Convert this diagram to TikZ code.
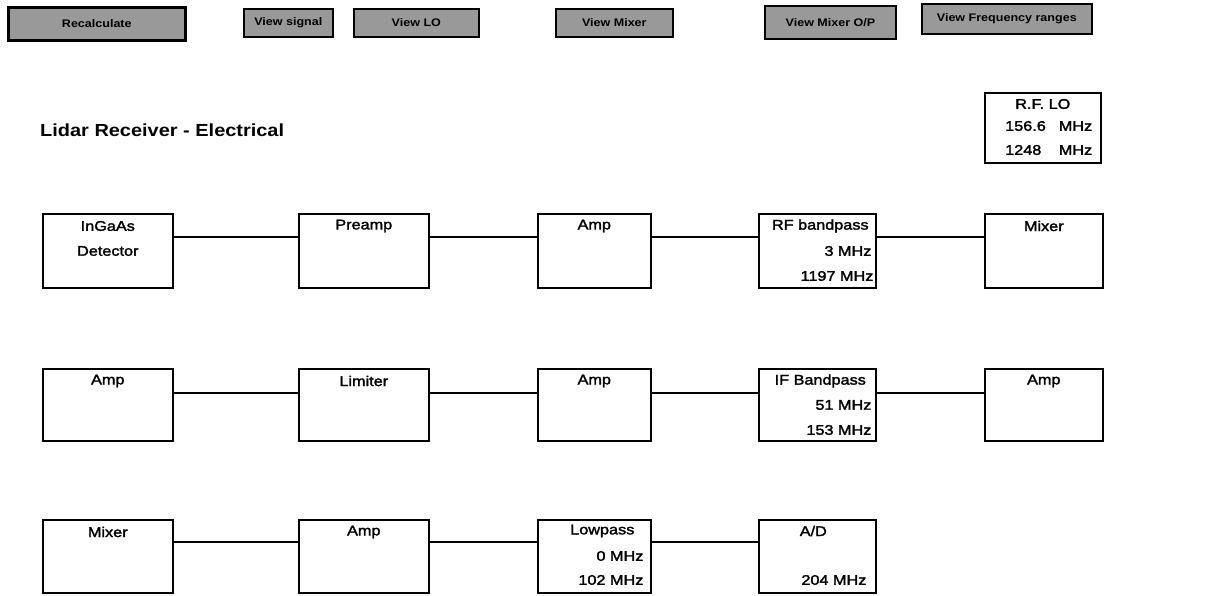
\documentclass[tikz,border=0pt]{standalone}
\usepackage{fontspec}
\setmainfont{Liberation Sans}[FakeStretch=1.14]
\newfontfamily\bodyf{Liberation Sans}[FakeStretch=1.16,FakeBold=2]
\usetikzlibrary{calc}
\begin{document}
\begin{tikzpicture}[x=1pt,y=-1pt,
  blk/.style={draw, line width=1.6pt, inner sep=0pt, anchor=north west},
  wire/.style={line width=1.3pt},
  btn/.style={draw, line width=1.6pt, fill=black!40, inner sep=0pt, anchor=north west,
    font=\bfseries\fontsize{11}{13}\selectfont},
  txt/.style={inner sep=0pt, font=\bodyf\fontsize{14}{16}\selectfont},
  ttl/.style={inner sep=0pt, anchor=west, font=\bfseries\fontsize{17.5}{19}\selectfont}]
\useasboundingbox (0,0) rectangle (1221,596);
% buttons
\node[btn, line width=2.6pt, minimum width=177pt, minimum height=33pt] (bRecalc) at (7,6) {Recalculate};
\node[btn, minimum width=89pt, minimum height=28pt] (bSig) at (243,8) {View signal};
\node[btn, minimum width=125pt, minimum height=28pt] (bLO) at (353,8) {View LO};
\node[btn, minimum width=117pt, minimum height=28pt] (bMix) at (555,8) {View Mixer};
\node[btn, line width=2pt, minimum width=131pt, minimum height=33pt] (bMixOP) at (764,5) {View Mixer O/P};
\node[btn, minimum width=170pt, minimum height=30pt] (bFreq) at (921,3) {View Frequency ranges};
% title
\node[ttl] (title) at (40,130) {Lidar Receiver - Electrical};
% LO box
\node[blk, minimum width=116pt, minimum height=70pt] (LO) at (984,92) {};
\node[txt] (LOt1) at ($(LO.north)+(0,12)$) {R.F. LO};
\node[txt, anchor=west] (LOt2) at ($(LO.north west)+(21,34)$) {\makebox[87pt]{156.6\hfill MHz}};
\node[txt, anchor=west] (LOt3) at ($(LO.north west)+(21,58)$) {\makebox[87pt]{1248\hfill MHz}};
% row 1
\node[blk, minimum width=130pt, minimum height=74pt] (A1) at (42,213) {};
\node[blk, minimum width=130pt, minimum height=74pt] (B1) at (298,213) {};
\node[blk, minimum width=113pt, minimum height=74pt] (C1) at (537,213) {};
\node[blk, minimum width=117pt, minimum height=74pt] (D1) at (758,213) {};
\node[blk, minimum width=118pt, minimum height=74pt] (E1) at (984,213) {};
\node[txt] (A1t1) at ($(A1.north)+(0,13)$) {InGaAs};
\node[txt] (A1t2) at ($(A1.north)+(0,38)$) {Detector};
\node[txt] (B1t1) at ($(B1.north)+(0,13)$) {Preamp};
\node[txt] (C1t1) at ($(C1.north)+(0,13)$) {Amp};
\node[txt] (D1t1) at ($(D1.north)+(3,13)$) {RF bandpass};
\node[txt, anchor=east] (D1t2) at ($(D1.north east)+(-5,38)$) {3 MHz};
\node[txt, anchor=east] (D1t3) at ($(D1.north east)+(-3,63)$) {1197 MHz};
\node[txt] (E1t1) at ($(E1.north)+(0,13)$) {Mixer};
% row 2
\node[blk, minimum width=130pt, minimum height=72pt] (A2) at (42,368) {};
\node[blk, minimum width=130pt, minimum height=72pt] (B2) at (298,368) {};
\node[blk, minimum width=113pt, minimum height=72pt] (C2) at (537,368) {};
\node[blk, minimum width=117pt, minimum height=72pt] (D2) at (758,368) {};
\node[blk, minimum width=118pt, minimum height=72pt] (E2) at (984,368) {};
\node[txt] (A2t1) at ($(A2.north)+(0,13)$) {Amp};
\node[txt] (B2t1) at ($(B2.north)+(0,13)$) {Limiter};
\node[txt] (C2t1) at ($(C2.north)+(0,13)$) {Amp};
\node[txt] (D2t1) at ($(D2.north)+(3,13)$) {IF Bandpass};
\node[txt, anchor=east] (D2t2) at ($(D2.north east)+(-5,37)$) {51 MHz};
\node[txt, anchor=east] (D2t3) at ($(D2.north east)+(-5,62)$) {153 MHz};
\node[txt] (E2t1) at ($(E2.north)+(0,13)$) {Amp};
% row 3
\node[blk, minimum width=130pt, minimum height=73pt] (A3) at (42,519) {};
\node[blk, minimum width=130pt, minimum height=73pt] (B3) at (298,519) {};
\node[blk, minimum width=113pt, minimum height=73pt] (C3) at (537,519) {};
\node[blk, minimum width=117pt, minimum height=73pt] (D3) at (758,519) {};
\node[txt] (A3t1) at ($(A3.north)+(0,13)$) {Mixer};
\node[txt] (B3t1) at ($(B3.north)+(0,13)$) {Amp};
\node[txt] (C3t1) at ($(C3.north)+(8,12)$) {Lowpass};
\node[txt, anchor=east] (C3t2) at ($(C3.north east)+(-8,37)$) {0 MHz};
\node[txt, anchor=east] (C3t3) at ($(C3.north east)+(-8,61)$) {102 MHz};
\node[txt] (D3t1) at ($(D3.north)+(-4,12)$) {A/D};
\node[txt, anchor=east] (D3t3) at ($(D3.north east)+(-10,61)$) {204 MHz};
% connectors row 1
\foreach \a/\b in {A1/B1, B1/C1, C1/D1, D1/E1}
  \draw[wire] ($(\a.north east)+(0,24)$) -- ($(\b.north west)+(0,24)$);
% connectors row 2
\foreach \a/\b in {A2/B2, B2/C2, C2/D2, D2/E2}
  \draw[wire] ($(\a.north east)+(0,25)$) -- ($(\b.north west)+(0,25)$);
% connectors row 3
\foreach \a/\b in {A3/B3, B3/C3, C3/D3}
  \draw[wire] ($(\a.north east)+(0,23)$) -- ($(\b.north west)+(0,23)$);
% verticals
\draw[wire] ($(LO.south)+(6,0)$) -- ($(LO.south)+(6,0)$ |- E1.north);
\draw[wire] ($(E1.south)+(4,0)$) -- ($(E1.south)+(4,0)$ |- E2.north);
\draw[wire] ($(A2.south)+(-3,0)$) -- ($(A2.south)+(-3,0)$ |- A3.north);
\end{tikzpicture}
\end{document}
